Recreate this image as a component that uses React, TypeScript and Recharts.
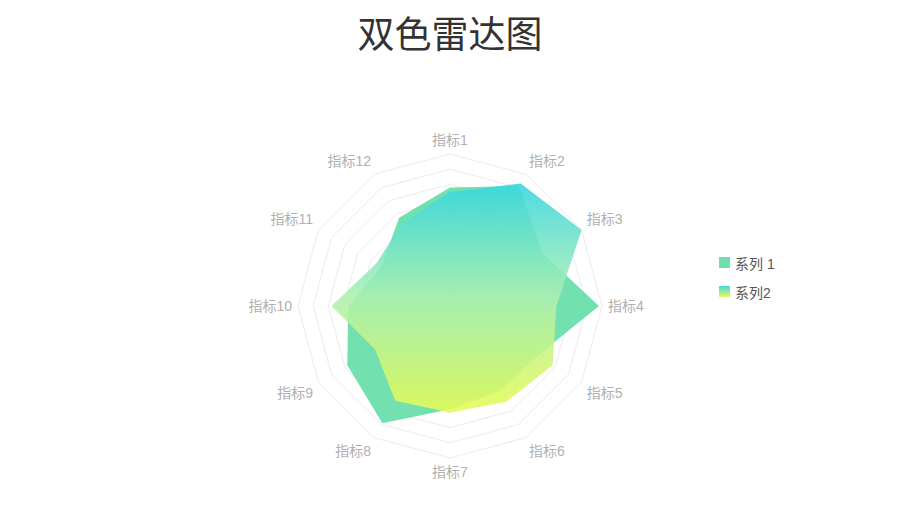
import { RadarChart, Radar, PolarGrid, PolarAngleAxis, PolarRadiusAxis, Legend } from 'recharts';

const indicators = ['指标1', '指标2', '指标3', '指标4', '指标5', '指标6', '指标7', '指标8', '指标9', '指标10', '指标11', '指标12'];
const series1 = [78, 91, 70, 98, 66, 65, 68, 89, 78, 67, 52, 67];
const series2 = [75, 93, 100, 70, 78, 73, 70, 72, 57, 78, 56, 63];
const seriesNames = ['系列 1', '系列2'];
const gridSteps = [10, 20, 30, 40, 50, 60, 70, 80, 90, 100];

const CX = 450;
const CY = 306;
const R = 152;
const FONT = '"Liberation Sans", "Noto Sans CJK SC", sans-serif';

const data = indicators.map((name, i) => ({ name, s1: series1[i], s2: series2[i] }));

function AngleTick(props: any) {
  const angle = props.payload.coordinate;
  const rad = (angle * Math.PI) / 180;
  const cos = Math.cos(rad);
  const sin = Math.sin(rad);
  const x = CX + (R + 6) * cos;
  const y = CY - (R + 6) * sin;
  const anchor = cos > 0.01 ? 'start' : cos < -0.01 ? 'end' : 'middle';
  const baseline = sin > 0.01 ? 'text-after-edge' : sin < -0.01 ? 'text-before-edge' : 'central';
  return (
    <text x={x} y={y} textAnchor={anchor} dominantBaseline={baseline} fontSize={14} fill="#b0b0b0" fontFamily={FONT}>
      {props.payload.value}
    </text>
  );
}

function LegendBox() {
  const swatches = [
    '#6ee0ad',
    'linear-gradient(to bottom, #46d9e0, #e4fb5a)',
  ];
  return (
    <div style={{ fontFamily: FONT, fontSize: 14, color: '#555' }}>
      {seriesNames.map((n, i) => (
        <div key={n} style={{ display: 'flex', alignItems: 'center', height: 29 }}>
          <span style={{ width: 11, height: 11, background: swatches[i], marginRight: 5, display: 'inline-block' }} />
          <span>{n}</span>
        </div>
      ))}
    </div>
  );
}

export default function App() {
  return (
    <div style={{ position: 'absolute', left: 0, top: 0, width: 900, height: 506, background: '#fff' }}>
      <svg width={0} height={0} style={{ position: 'absolute' }}>
        <defs>
          <linearGradient id="s2grad" x1="0" y1="0" x2="0" y2="1">
            <stop offset="0%" stopColor="#36d6e0" />
            <stop offset="50%" stopColor="#aef0b0" />
            <stop offset="100%" stopColor="#e6fb52" />
          </linearGradient>
        </defs>
      </svg>
      <div
        style={{
          position: 'absolute',
          top: 13,
          left: 0,
          width: 900,
          textAlign: 'center',
          fontFamily: '"Noto Sans CJK SC", sans-serif',
          fontSize: 37,
          lineHeight: '38px',
          color: '#333',
        }}
      >
        双色雷达图
      </div>
      <RadarChart width={900} height={506} data={data} cx={CX} cy={CY} outerRadius={R} margin={{ top: 0, right: 0, bottom: 0, left: 0 }}>
        <PolarGrid gridType="polygon" radialLines={false} stroke="#ececec" polarRadius={gridSteps.map((v) => (v / 100) * R)} />
        <PolarAngleAxis dataKey="name" tick={AngleTick} tickLine={false} axisLine={false} />
        <PolarRadiusAxis domain={[0, 100]} tick={false} axisLine={false} />
        <Radar name={seriesNames[0]} dataKey="s1" stroke="none" fill="#4fd99b" fillOpacity={0.8} isAnimationActive={false} />
        <Radar name={seriesNames[1]} dataKey="s2" stroke="none" fill="url(#s2grad)" fillOpacity={0.88} isAnimationActive={false} />
        <Legend
          layout="vertical"
          align="center"
          verticalAlign="middle"
          content={LegendBox}
          wrapperStyle={{ left: 719, top: 248, width: 100 }}
        />
      </RadarChart>
    </div>
  );
}
